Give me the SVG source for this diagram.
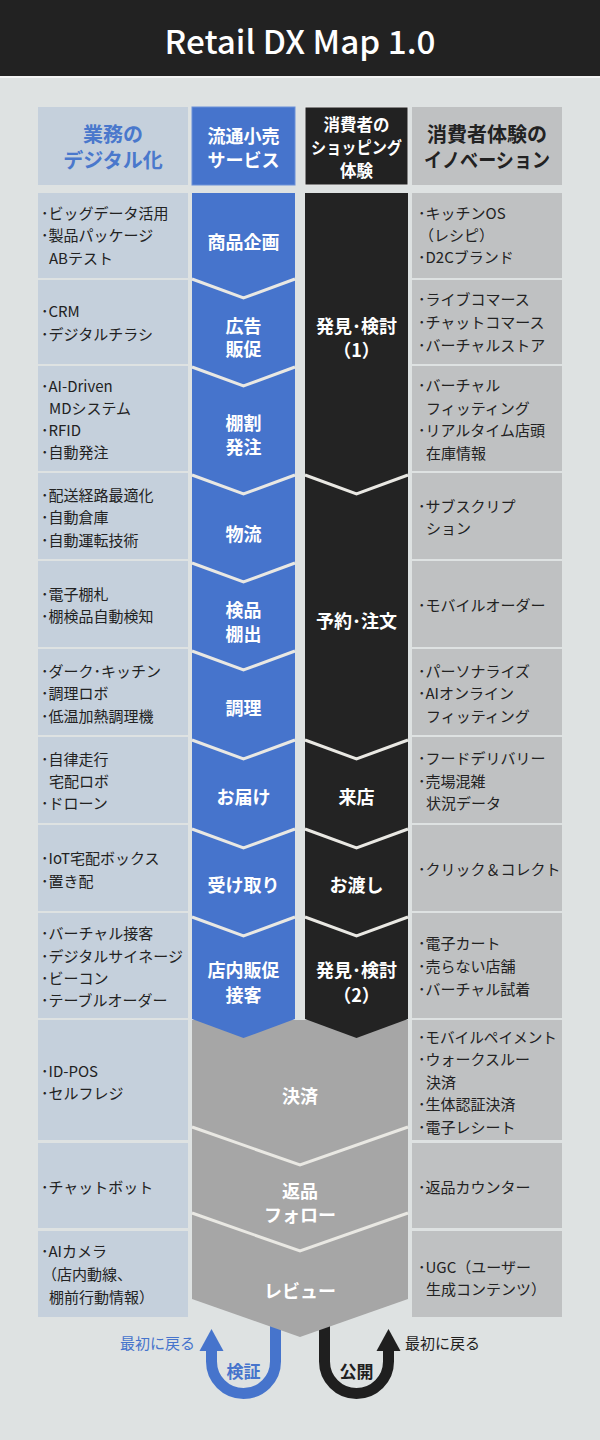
<svg xmlns="http://www.w3.org/2000/svg" width="600" height="1440" viewBox="0 0 600 1440">
<defs>
<style>
text{font-family:"Noto Sans CJK JP","Noto Sans",sans-serif;dominant-baseline:central;}
.c{font-size:15px;fill:#222;}
.lbl{font-size:18px;font-weight:700;fill:#fff;text-anchor:middle;}
.lb{fill:#c5d0dc;}
.rb{fill:#bfc1c2;}
.sep{fill:none;stroke:#e9e8e3;stroke-width:3;}
.hd{font-weight:700;text-anchor:middle;}
</style>
</defs>
<rect x="0" y="0" width="600" height="1440" fill="#dee2e2"/>
<g id="title">
<rect x="0" y="0" width="600" height="76" fill="#222"/>
<rect x="0" y="76" width="600" height="2" fill="#f3f4f4"/>
<text x="300" y="40" fill="#fff" font-family="Roboto,'Noto Sans',sans-serif" font-weight="500" font-size="32" text-anchor="middle" textLength="271" lengthAdjust="spacingAndGlyphs">Retail DX Map 1.0</text>
</g>

<g id="headers">
<rect x="38" y="107" width="150" height="78" fill="#c5d0dc"/>
<text class="hd" x="113" y="133" font-size="20" fill="#4a78cc">業務の</text>
<text class="hd" x="113" y="159" font-size="20" fill="#4a78cc">デジタル化</text>
<rect x="192" y="107" width="103" height="78" fill="#4674cc" stroke="#6a90d8" stroke-width="1"/>
<text class="hd" x="243.5" y="135" font-size="18" fill="#fff">流通小売</text>
<text class="hd" x="243.5" y="159" font-size="18" fill="#fff">サービス</text>
<rect x="305" y="107" width="103" height="78" fill="#222" stroke="#e6e6e6" stroke-width="1"/>
<text class="hd" x="356.5" y="124" font-size="16.5" fill="#fff">消費者の</text>
<text class="hd" x="356.5" y="147" font-size="16.5" fill="#fff" textLength="91" lengthAdjust="spacingAndGlyphs">ショッピング</text>
<text class="hd" x="356.5" y="170" font-size="16.5" fill="#fff">体験</text>
<rect x="412" y="107" width="150" height="78" fill="#bfc1c2"/>
<text class="hd" x="487" y="133" font-size="20" fill="#222">消費者体験の</text>
<text class="hd" x="487" y="159" font-size="20" fill="#222" textLength="126" lengthAdjust="spacingAndGlyphs">イノベーション</text>
</g>

<g id="connectors">
<path d="M275.5 1300 L275.5 1361.5 A32 32 0 0 1 211.5 1361.5 L211.5 1349" fill="none" stroke="#4674cc" stroke-width="11"/>
<polygon points="211.5,1329 223.5,1351 199.5,1351" fill="#4674cc"/>
<path d="M324.5 1300 L324.5 1361.5 A32 32 0 0 0 388.5 1361.5 L388.5 1349" fill="none" stroke="#1f1f1f" stroke-width="11"/>
<polygon points="388.5,1329 400.5,1351 376.5,1351" fill="#1f1f1f"/>
</g>

<g id="flow-gray">
<polygon points="192,1020 408,1020 408,1299 300,1337 192,1299" fill="#a6a6a6"/>
<polyline class="sep" points="192,1127 300,1165 408,1127"/>
<polyline class="sep" points="192,1213 300,1251 408,1213"/>
<text class="lbl" x="300" y="1095">決済</text>
<text class="lbl" x="300" y="1190">返品</text>
<text class="lbl" x="300" y="1214">フォロー</text>
<text class="lbl" x="300" y="1290">レビュー</text>
</g>

<g id="flow-blue">
<polygon points="192,193 295,193 295,1019 243.5,1038 192,1019" fill="#4674cc"/>
<polyline class="sep" points="192,279 243.5,298 295,279"/>
<polyline class="sep" points="192,367 243.5,386 295,367"/>
<polyline class="sep" points="192,475 243.5,494 295,475"/>
<polyline class="sep" points="192,563 243.5,582 295,563"/>
<polyline class="sep" points="192,651 243.5,670 295,651"/>
<polyline class="sep" points="192,740 243.5,759 295,740"/>
<polyline class="sep" points="192,829 243.5,848 295,829"/>
<polyline class="sep" points="192,917 243.5,936 295,917"/>
<text class="lbl" x="243.5" y="241">商品企画</text>
<text class="lbl" x="243.5" y="325">広告</text>
<text class="lbl" x="243.5" y="348">販促</text>
<text class="lbl" x="243.5" y="422">棚割</text>
<text class="lbl" x="243.5" y="446">発注</text>
<text class="lbl" x="243.5" y="533">物流</text>
<text class="lbl" x="243.5" y="609">検品</text>
<text class="lbl" x="243.5" y="633">棚出</text>
<text class="lbl" x="243.5" y="707">調理</text>
<text class="lbl" x="243.5" y="796">お届け</text>
<text class="lbl" x="243.5" y="884">受け取り</text>
<text class="lbl" x="243.5" y="969">店内販促</text>
<text class="lbl" x="243.5" y="994">接客</text>
</g>

<g id="flow-black">
<polygon points="305,193 408,193 408,1019 356.5,1038 305,1019" fill="#232323"/>
<polyline class="sep" points="305,475 356.5,494 408,475"/>
<polyline class="sep" points="305,740 356.5,759 408,740"/>
<polyline class="sep" points="305,829 356.5,848 408,829"/>
<polyline class="sep" points="305,917 356.5,936 408,917"/>
<text class="lbl" x="356.5" y="325">発見･検討</text>
<text class="lbl" x="356.5" y="349">（1）</text>
<text class="lbl" x="356.5" y="620">予約･注文</text>
<text class="lbl" x="356.5" y="796">来店</text>
<text class="lbl" x="356.5" y="884">お渡し</text>
<text class="lbl" x="356.5" y="969">発見･検討</text>
<text class="lbl" x="356.5" y="994">（2）</text>
</g>

<g id="col-left">
<rect class="lb" x="38" y="193" width="150" height="85"/>
<rect class="lb" x="38" y="280" width="150" height="84"/>
<rect class="lb" x="38" y="366" width="150" height="105"/>
<rect class="lb" x="38" y="473" width="150" height="86"/>
<rect class="lb" x="38" y="561" width="150" height="86"/>
<rect class="lb" x="38" y="649" width="150" height="86"/>
<rect class="lb" x="38" y="737" width="150" height="86"/>
<rect class="lb" x="38" y="825" width="150" height="86"/>
<rect class="lb" x="38" y="913" width="150" height="105"/>
<rect class="lb" x="38" y="1020" width="150" height="120"/>
<rect class="lb" x="38" y="1143" width="150" height="85"/>
<rect class="lb" x="38" y="1231" width="150" height="86"/>
<text class="c" x="41" y="212">･ビッグデータ活用</text>
<text class="c" x="41" y="234">･製品パッケージ</text>
<text class="c" x="49" y="257">ABテスト</text>
<text class="c" x="41" y="310">･CRM</text>
<text class="c" x="41" y="333">･デジタルチラシ</text>
<text class="c" x="41" y="385">･AI-Driven</text>
<text class="c" x="49" y="407">MDシステム</text>
<text class="c" x="41" y="429">･RFID</text>
<text class="c" x="41" y="451">･自動発注</text>
<text class="c" x="41" y="494">･配送経路最適化</text>
<text class="c" x="41" y="516">･自動倉庫</text>
<text class="c" x="41" y="539">･自動運転技術</text>
<text class="c" x="41" y="593">･電子棚札</text>
<text class="c" x="41" y="615">･棚検品自動検知</text>
<text class="c" x="41" y="670">･ダーク･キッチン</text>
<text class="c" x="41" y="692">･調理ロボ</text>
<text class="c" x="41" y="715">･低温加熱調理機</text>
<text class="c" x="41" y="758">･自律走行</text>
<text class="c" x="49" y="780">宅配ロボ</text>
<text class="c" x="41" y="802">･ドローン</text>
<text class="c" x="41" y="857">･IoT宅配ボックス</text>
<text class="c" x="41" y="880">･置き配</text>
<text class="c" x="41" y="932">･バーチャル接客</text>
<text class="c" x="41" y="955">･デジタルサイネージ</text>
<text class="c" x="41" y="977">･ビーコン</text>
<text class="c" x="41" y="999">･テーブルオーダー</text>
<text class="c" x="41" y="1070">･ID-POS</text>
<text class="c" x="41" y="1092">･セルフレジ</text>
<text class="c" x="41" y="1186">･チャットボット</text>
<text class="c" x="41" y="1250">･AIカメラ</text>
<text class="c" x="42" y="1273">（店内動線、</text>
<text class="c" x="49" y="1296">棚前行動情報）</text>
</g>

<g id="col-right">
<rect class="rb" x="412" y="193" width="150" height="85"/>
<rect class="rb" x="412" y="280" width="150" height="84"/>
<rect class="rb" x="412" y="366" width="150" height="105"/>
<rect class="rb" x="412" y="473" width="150" height="86"/>
<rect class="rb" x="412" y="561" width="150" height="86"/>
<rect class="rb" x="412" y="649" width="150" height="86"/>
<rect class="rb" x="412" y="737" width="150" height="86"/>
<rect class="rb" x="412" y="825" width="150" height="86"/>
<rect class="rb" x="412" y="913" width="150" height="105"/>
<rect class="rb" x="412" y="1020" width="150" height="120"/>
<rect class="rb" x="412" y="1143" width="150" height="85"/>
<rect class="rb" x="412" y="1231" width="150" height="86"/>
<text class="c" x="418" y="212">･キッチンOS</text>
<text class="c" x="419" y="234">（レシピ）</text>
<text class="c" x="418" y="256">･D2Cブランド</text>
<text class="c" x="418" y="298">･ライブコマース</text>
<text class="c" x="418" y="321">･チャットコマース</text>
<text class="c" x="418" y="344">･バーチャルストア</text>
<text class="c" x="418" y="384">･バーチャル</text>
<text class="c" x="426" y="407">フィッティング</text>
<text class="c" x="418" y="429">･リアルタイム店頭</text>
<text class="c" x="426" y="452">在庫情報</text>
<text class="c" x="418" y="505">･サブスクリプ</text>
<text class="c" x="426" y="527">ション</text>
<text class="c" x="418" y="604">･モバイルオーダー</text>
<text class="c" x="418" y="670">･パーソナライズ</text>
<text class="c" x="418" y="692">･AIオンライン</text>
<text class="c" x="426" y="715">フィッティング</text>
<text class="c" x="418" y="757">･フードデリバリー</text>
<text class="c" x="418" y="780">･売場混雑</text>
<text class="c" x="426" y="802">状況データ</text>
<text class="c" x="418" y="868">･クリック＆コレクト</text>
<text class="c" x="418" y="942">･電子カート</text>
<text class="c" x="418" y="965">･売らない店舗</text>
<text class="c" x="418" y="988">･バーチャル試着</text>
<text class="c" x="418" y="1036" textLength="139" lengthAdjust="spacingAndGlyphs">･モバイルペイメント</text>
<text class="c" x="418" y="1058">･ウォークスルー</text>
<text class="c" x="426" y="1081">決済</text>
<text class="c" x="418" y="1103">･生体認証決済</text>
<text class="c" x="418" y="1126">･電子レシート</text>
<text class="c" x="418" y="1186">･返品カウンター</text>
<text class="c" x="418" y="1266">･UGC（ユーザー</text>
<text class="c" x="426" y="1288">生成コンテンツ）</text>
</g>

<g id="loop-labels">
<text x="243.5" y="1370" font-size="17" font-weight="700" fill="#4674cc" text-anchor="middle">検証</text>
<text x="195" y="1342" font-size="15" fill="#4674cc" text-anchor="end">最初に戻る</text>
<text x="356.5" y="1370" font-size="17" font-weight="700" fill="#1f1f1f" text-anchor="middle">公開</text>
<text x="405" y="1342" font-size="15" fill="#1f1f1f">最初に戻る</text>
</g>
</svg>
